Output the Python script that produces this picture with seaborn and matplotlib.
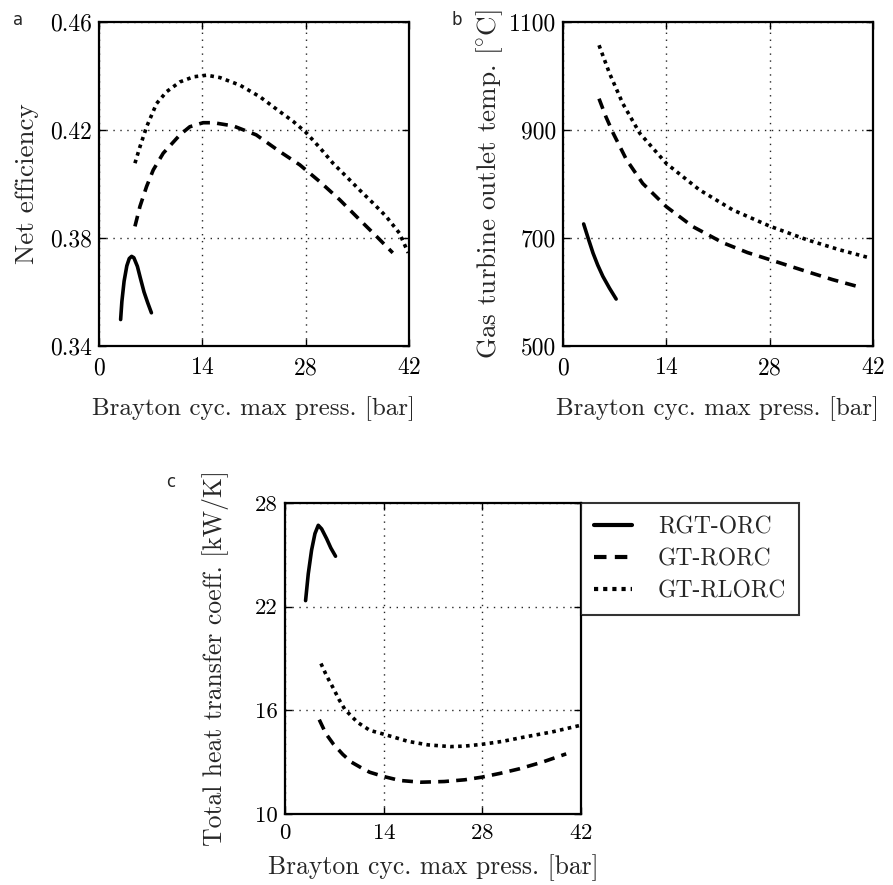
import numpy as np
import pandas as pd
import matplotlib
matplotlib.use("Agg")
import matplotlib.pyplot as plt
import seaborn as sns

# ---------------- data ----------------
series_names = ["RGT-ORC", "GT-RORC", "GT-RLORC"]
x_ticks = [0, 14, 28, 42]

# panel a: net efficiency
a_rgt_x = [2.93, 3.1, 3.4, 3.77, 4.1, 4.42, 4.72, 5.2, 5.6, 6.1, 6.6, 7.1]
a_rgt_y = [0.3498, 0.3565, 0.3640, 0.3697, 0.3724, 0.3732, 0.3727, 0.3695, 0.3652, 0.3600, 0.3560, 0.3523]
a_ror_x = [4.87, 5.55, 6.45, 7.35, 8.7, 10.96, 12.3, 14.1, 15.5, 18.2, 21.3, 24.5, 27.2, 29.9, 32.6, 35.3, 37.6, 39.8]
a_ror_y = [0.3843, 0.3917, 0.3991, 0.4052, 0.4114, 0.4182, 0.4212, 0.4227, 0.4227, 0.4215, 0.4182, 0.4120, 0.4071, 0.4009, 0.3942, 0.3868, 0.3806, 0.3745]
a_rlo_x = [4.87, 5.55, 6.45, 7.8, 9.16, 10.96, 12.8, 14.6, 16.4, 19.1, 21.8, 24.5, 26.3, 28.0, 29.9, 31.7, 33.5, 35.3, 37.1, 38.9, 40.7, 41.9]
a_rlo_y = [0.4077, 0.4138, 0.4212, 0.4298, 0.4342, 0.4378, 0.4397, 0.4403, 0.4394, 0.4366, 0.4323, 0.4268, 0.4232, 0.4192, 0.4135, 0.4077, 0.4028, 0.3978, 0.3930, 0.3880, 0.3818, 0.3745]

# panel b: gas turbine outlet temperature
b_rgt_x = [2.8, 3.4, 4.07, 4.7, 5.4, 6.3, 7.2]
b_rgt_y = [726, 700, 672, 650, 629, 607, 587]
b_ror_x = [4.88, 5.8, 6.8, 8.6, 10.8, 14.0, 17.6, 21.7, 25.0, 28.0, 33.0, 36.5, 39.7]
b_ror_y = [958, 925, 894, 845, 801, 758, 721, 691, 673, 660, 638, 623, 611]
b_rlo_x = [4.88, 6.3, 8.1, 10.4, 14.0, 18.5, 23.0, 28.0, 33.0, 37.5, 41.6]
b_rlo_y = [1057, 1005, 949, 894, 838, 789, 752, 722, 697, 678, 663]

# panel c: total heat transfer coefficient
c_rgt_x = [2.92, 3.3, 3.77, 4.25, 4.72, 5.2, 5.9, 6.5, 7.17]
c_rgt_y = [22.35, 23.9, 25.27, 26.23, 26.71, 26.5, 25.94, 25.4, 24.92]
c_ror_x = [4.86, 5.8, 6.84, 8.2, 9.43, 10.8, 12.0, 14.0, 16.3, 19.3, 22.6, 25.5, 27.9, 30.5, 33.2, 36.5, 39.9]
c_ror_y = [15.46, 14.65, 14.06, 13.45, 13.0, 12.68, 12.42, 12.17, 11.94, 11.84, 11.88, 11.98, 12.13, 12.35, 12.61, 13.0, 13.48]
c_rlo_x = [5.1, 5.9, 6.75, 7.7, 8.5, 10.3, 12.05, 14.0, 17.5, 20.3, 23.5, 25.5, 27.9, 30.8, 33.9, 37.9, 41.9]
c_rlo_y = [18.71, 18.0, 17.36, 16.6, 16.05, 15.3, 14.84, 14.62, 14.2, 14.0, 13.9, 13.93, 14.03, 14.2, 14.45, 14.75, 15.13]

a_yticks = [0.34, 0.38, 0.42, 0.46]
b_yticks = [500, 700, 900, 1100]
c_yticks = [10, 16, 22, 28]


def make_df(xs, ys):
    rows = []
    for name, x, y in zip(series_names, xs, ys):
        for xi, yi in zip(x, y):
            rows.append({"x": xi, "y": yi, "series": name})
    return pd.DataFrame(rows)


df_a = make_df([a_rgt_x, a_ror_x, a_rlo_x], [a_rgt_y, a_ror_y, a_rlo_y])
df_b = make_df([b_rgt_x, b_ror_x, b_rlo_x], [b_rgt_y, b_ror_y, b_rlo_y])
df_c = make_df([c_rgt_x, c_ror_x, c_rlo_x], [c_rgt_y, c_ror_y, c_rlo_y])

# ---------------- style ----------------
sns.set_style("ticks")
plt.rcParams["font.family"] = ["cmr10", "DejaVu Serif"]
plt.rcParams["mathtext.fontset"] = "cm"
plt.rcParams["axes.formatter.use_mathtext"] = True
plt.rcParams["axes.unicode_minus"] = False

W, H = 893, 885
fig = plt.figure(figsize=(W / 100, H / 100), dpi=100)


def px_axes(l, t, r, b):
    return fig.add_axes([l / W, 1 - b / H, (r - l) / W, (b - t) / H])


dashes = {"RGT-ORC": "", "GT-RORC": (3, 2), "GT-RLORC": (1, 1.2)}
LW = 2.6


def draw(ax, df, yticks, ylabel, tick_fs, xlab_fs, ylab_fs, xpad, xlabelpad, ylabelpad, legend=False):
    sns.lineplot(data=df, x="x", y="y", style="series", dashes=dashes,
                 color="black", linewidth=LW, estimator=None, sort=False,
                 legend=legend, ax=ax)
    ax.set_xlim(0, 42)
    ax.set_ylim(yticks[0], yticks[-1])
    ax.set_xticks(x_ticks)
    ax.set_yticks(yticks)
    ax.set_yticklabels([("%g" % v) if isinstance(v, int) else ("%.2f" % v) for v in yticks])
    ax.tick_params(direction="in", top=True, right=True, length=5, width=1,
                   labelsize=tick_fs, colors="black")
    ax.tick_params(axis="x", pad=xpad)
    ax.tick_params(axis="y", pad=5)
    ax.grid(True, linestyle=(0, (1, 4)), color="0.15", linewidth=1.0)
    for s in ax.spines.values():
        s.set_linewidth(1.6)
        s.set_color("black")
    ax.set_xlabel("Brayton cyc. max press. [bar]", fontsize=xlab_fs, labelpad=xlabelpad)
    ax.set_ylabel(ylabel, fontsize=ylab_fs, labelpad=ylabelpad)


ax_a = px_axes(99, 22, 409, 346)
ax_b = px_axes(563, 22, 873, 346)
ax_c = px_axes(285, 503, 581, 814)

draw(ax_a, df_a, a_yticks, "Net efficiency", 17, 18, 19.5, 8, 12, 8)
draw(ax_b, df_b, b_yticks, r"Gas turbine outlet temp. [$^{\circ}$C]", 17, 18, 19.5, 8, 12, 3)
draw(ax_c, df_c, c_yticks, "Total heat transfer coeff. [kW/K]", 16.5, 18.5, 18.5, 7, 8, 19, legend=True)

handles, labels = ax_c.get_legend_handles_labels()
ax_c.get_legend().remove()
leg = ax_c.legend(handles, labels, loc="upper left", bbox_to_anchor=(1.0, 1.0),
                  frameon=True, fancybox=False, shadow=False, fontsize=17,
                  handlelength=1.6, handletextpad=1.1, borderaxespad=0.0,
                  borderpad=0.55, labelspacing=0.42, edgecolor="black")
leg.get_frame().set_linewidth(1.5)
for h in leg.get_lines():
    h.set_linewidth(LW + 0.4)

# panel letters
fig.text(18 / W, 1 - 20 / H, "a", fontsize=12, family="DejaVu Sans", ha="center", va="center")
fig.text(457 / W, 1 - 20 / H, "b", fontsize=12, family="DejaVu Sans", ha="center", va="center")
fig.text(171 / W, 1 - 482 / H, "c", fontsize=12, family="DejaVu Sans", ha="center", va="center")

fig.savefig("out.png", dpi=100)
